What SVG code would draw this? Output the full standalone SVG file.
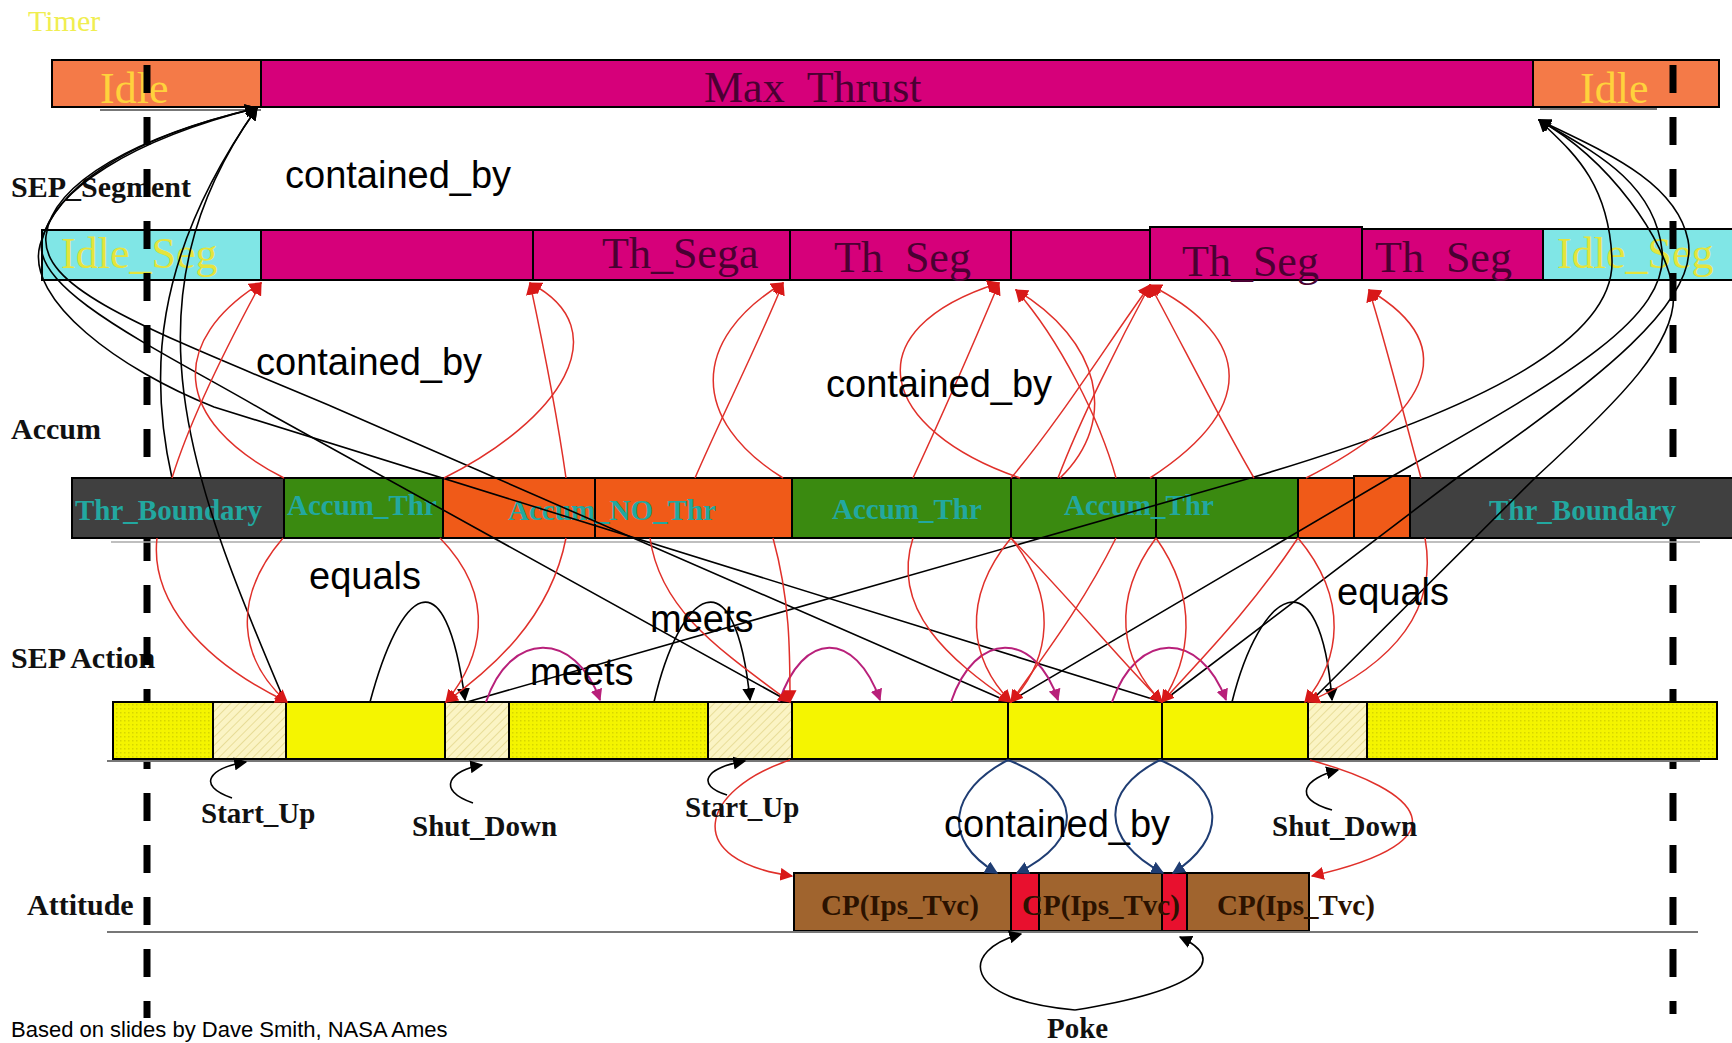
<svg xmlns="http://www.w3.org/2000/svg" width="1732" height="1043" viewBox="0 0 1732 1043">
<style>
.bar{stroke:#000;stroke-width:2}
.idle{fill:#f47a48}
.mag{fill:#d6007a}
.cyan{fill:#80e6e6}
.grey{fill:#404040}
.green{fill:#3a8a10}
.orange{fill:#f05a18}
.yel{fill:#f5f500}
.brown{fill:#a0642e}
.redb{fill:#e8102e}
.tlab{font-family:"Liberation Serif",serif;font-size:44px;fill:#ffd23c}
.slab{font-family:"Liberation Serif",serif;font-size:44px;fill:#4a0032}
.ylab{font-family:"Liberation Serif",serif;font-size:44px;fill:#e4e43c}
.alab{font-family:"Liberation Serif",serif;font-size:29px;font-weight:bold;fill:#22a8a0}
.rowlab{font-family:"Liberation Serif",serif;font-size:30px;font-weight:bold;fill:#111}
.blab{font-family:"Liberation Serif",serif;font-size:29px;font-weight:bold;fill:#111}
.cplab{font-family:"Liberation Serif",serif;font-size:29px;font-weight:bold;fill:#2b1200}
.rel{font-family:"Liberation Sans",Arial,sans-serif;font-size:38px;fill:#000}
.foot{font-family:"Liberation Sans",Arial,sans-serif;font-size:22px;fill:#000}
.cb{fill:none;stroke:#000;stroke-width:1.6}
.cr{fill:none;stroke:#e0302a;stroke-width:1.5}
.cm{fill:none;stroke:#b8207a;stroke-width:2}
.cbl{fill:none;stroke:#1f3d73;stroke-width:2}
.dash{stroke:#000;stroke-width:7;stroke-dasharray:28 24}
.thin{stroke:#777;stroke-width:2}
</style>
<defs>
<marker id="ab" viewBox="0 0 10 10" refX="9" refY="5" markerWidth="13" markerHeight="13" markerUnits="userSpaceOnUse" orient="auto"><path d="M0,0 L10,5 L0,10 z" fill="#000"/></marker>
<marker id="ar" viewBox="0 0 10 10" refX="9" refY="5" markerWidth="13" markerHeight="13" markerUnits="userSpaceOnUse" orient="auto"><path d="M0,0 L10,5 L0,10 z" fill="#d81818"/></marker>
<marker id="am" viewBox="0 0 10 10" refX="9" refY="5" markerWidth="12" markerHeight="12" markerUnits="userSpaceOnUse" orient="auto"><path d="M0,0 L10,5 L0,10 z" fill="#b8207a"/></marker>
<marker id="abl" viewBox="0 0 10 10" refX="9" refY="5" markerWidth="13" markerHeight="13" markerUnits="userSpaceOnUse" orient="auto"><path d="M0,0 L10,5 L0,10 z" fill="#1f3d73"/></marker>
<pattern id="hatch" width="6" height="6" patternUnits="userSpaceOnUse" patternTransform="rotate(45)"><rect width="6" height="6" fill="#fbf4c4"/><line x1="0" y1="0" x2="0" y2="6" stroke="#e2d68a" stroke-width="1.5"/></pattern>
<pattern id="dots" width="4" height="4" patternUnits="userSpaceOnUse"><rect width="4" height="4" fill="#f4f400"/><rect width="1.5" height="1.5" fill="#d6d600"/></pattern>
</defs>
<rect width="1732" height="1043" fill="#fff"/>

<g id="labels">
<text x="28" y="31" font-family="Liberation Serif,serif" font-size="30" fill="#f0ee50">Timer</text>
<text x="11" y="197" class="rowlab">SEP_Segment</text>
<text x="11" y="439" class="rowlab">Accum</text>
<text x="11" y="668" class="rowlab">SEP Action</text>
<text x="27" y="915" class="rowlab">Attitude</text>
<text x="11" y="1037" class="foot">Based on slides by Dave Smith, NASA Ames</text>
</g>

<g id="timer-row">
<g id="timer-idle-1"><rect x="52" y="60" width="209" height="47" class="bar idle"/><text x="100" y="103" class="tlab">Idle</text></g>
<g id="timer-max-thrust"><rect x="261" y="60" width="1272" height="47" class="bar mag"/><text x="704" y="102" class="slab">Max&#160;&#160;Thrust</text></g>
<g id="timer-idle-2"><rect x="1533" y="60" width="186" height="47" class="bar idle"/><text x="1580" y="103" class="tlab">Idle</text></g>
<line x1="100" y1="110" x2="261" y2="110" class="thin"/>
<line x1="1540" y1="109" x2="1657" y2="109" class="thin"/>
</g>

<g id="seg-row">
<g id="seg-idle-1"><rect x="42" y="230" width="219" height="50" class="bar cyan"/><text x="61" y="268" class="ylab">Idle_Seg</text></g>
<g id="seg-th-1"><rect x="261" y="230" width="272" height="50" class="bar mag"/></g>
<g id="seg-th-sega"><rect x="533" y="230" width="257" height="50" class="bar mag"/><text x="602" y="268" class="slab">Th_Sega</text></g>
<g id="seg-th-2"><rect x="790" y="230" width="221" height="50" class="bar mag"/><text x="834" y="272" class="slab">Th&#160;&#160;Seg</text></g>
<g id="seg-th-3"><rect x="1011" y="230" width="139" height="50" class="bar mag"/></g>
<g id="seg-th-4"><rect x="1150" y="227" width="212" height="53" class="bar mag"/><text x="1182" y="276" class="slab">Th_Seg</text></g>
<g id="seg-th-5"><rect x="1362" y="229" width="181" height="51" class="bar mag"/><text x="1375" y="272" class="slab">Th&#160;&#160;Seg</text></g>
<g id="seg-idle-2"><rect x="1543" y="229" width="195" height="51" class="bar cyan"/><text x="1557" y="268" class="ylab">Idle_Seg</text></g>
</g>

<g id="dashed-lines">
<line x1="147" y1="65" x2="147" y2="1018" class="dash"/>
<line x1="1673" y1="65" x2="1673" y2="1014" class="dash"/>
</g>

<g id="accum-row">
<g id="acc-boundary-1"><rect x="72" y="478" width="212" height="60" class="bar grey"/><text x="75" y="520" class="alab">Thr_Boundary</text></g>
<g id="acc-thr-1"><rect x="284" y="478" width="159" height="60" class="bar green"/><text x="287" y="515" class="alab">Accum_Thr</text></g>
<g id="acc-no-thr"><rect x="443" y="478" width="152" height="60" class="bar orange"/><rect x="595" y="478" width="197" height="60" class="bar orange"/><text x="508" y="520" class="alab">Accum_NO_Thr</text></g>
<g id="acc-thr-2"><rect x="792" y="478" width="219" height="60" class="bar green"/><text x="832" y="519" class="alab">Accum_Thr</text></g>
<g id="acc-thr-3"><rect x="1011" y="478" width="145" height="60" class="bar green"/><rect x="1156" y="478" width="142" height="60" class="bar green"/><text x="1064" y="515" class="alab">Accum_Thr</text></g>
<g id="acc-orange-2"><rect x="1298" y="478" width="56" height="60" class="bar orange"/><rect x="1354" y="476" width="56" height="62" class="bar orange"/></g>
<g id="acc-boundary-2"><rect x="1410" y="478" width="330" height="60" class="bar grey"/><text x="1489" y="520" class="alab">Thr_Boundary</text></g>
<line x1="111" y1="542" x2="1700" y2="542" stroke="#aaa" stroke-width="1.5"/>
</g>

<g id="action-row">
<rect id="act-1" x="113" y="702" width="100" height="57" class="bar" fill="url(#dots)"/>
<rect id="act-startup-1" x="213" y="702" width="73" height="57" class="bar" fill="url(#hatch)"/>
<rect id="act-2" x="286" y="702" width="159" height="57" class="bar yel"/>
<rect id="act-shutdown-1" x="445" y="702" width="64" height="57" class="bar" fill="url(#hatch)"/>
<rect id="act-3" x="509" y="702" width="199" height="57" class="bar" fill="url(#dots)"/>
<rect id="act-startup-2" x="708" y="702" width="84" height="57" class="bar" fill="url(#hatch)"/>
<rect id="act-4" x="792" y="702" width="216" height="57" class="bar yel"/>
<rect id="act-5" x="1008" y="702" width="154" height="57" class="bar yel"/>
<rect id="act-6" x="1162" y="702" width="146" height="57" class="bar yel"/>
<rect id="act-shutdown-2" x="1308" y="702" width="59" height="57" class="bar" fill="url(#hatch)"/>
<rect id="act-7" x="1367" y="702" width="350" height="57" class="bar" fill="url(#dots)"/>
<line x1="107" y1="761" x2="1700" y2="761" class="thin"/>
</g>

<g id="attitude-row">
<g id="att-cp-1"><rect x="794" y="873" width="217" height="58" class="bar brown"/><text x="821" y="915" class="cplab">CP(Ips_Tvc)</text></g>
<g id="att-poke-1"><rect x="1011" y="873" width="28" height="58" class="bar redb"/></g>
<g id="att-cp-2"><rect x="1039" y="873" width="123" height="58" class="bar brown"/></g>
<g id="att-poke-2"><rect x="1162" y="873" width="25" height="58" class="bar redb"/></g>
<g id="att-cp-3"><rect x="1187" y="873" width="122" height="58" class="bar brown"/></g>
<text x="1022" y="915" class="cplab">CP(Ips_Tvc)</text>
<text x="1217" y="915" class="cplab">CP(Ips_Tvc)</text>
<line x1="107" y1="932" x2="1698" y2="932" class="thin"/>
</g>

<g id="connectors">
<path class="cb" marker-end="url(#ab)" d="M 1009 702 L 333 407 C 150 330, 40 290, 46 236 S 140 135, 257 108"/>
<path class="cb" marker-end="url(#ab)" d="M 790 702 L 268 413 C 160 350, 30 290, 42 240 S 130 140, 257 108"/>
<path class="cb" marker-end="url(#ab)" d="M 1162 702 L 214 407 C 120 370, 25 300, 40 245 S 120 140, 257 108"/>
<path class="cb" marker-end="url(#ab)" d="M 285 702 C 190 480, 120 300, 257 108"/>
<path class="cb" marker-end="url(#ab)" d="M 172 478 C 150 380, 150 260, 257 108"/>
<path class="cb" marker-end="url(#ab)" d="M 467 702 L 1254 477 C 1480 410, 1615 340, 1612 260 S 1570 150, 1539 120"/>
<path class="cb" marker-end="url(#ab)" d="M 1009 702 L 1391 477 C 1560 380, 1670 320, 1662 250 S 1590 150, 1539 120"/>
<path class="cb" marker-end="url(#ab)" d="M 1162 702 L 1458 477 C 1600 380, 1700 300, 1688 240 S 1600 150, 1539 120"/>
<path class="cb" marker-end="url(#ab)" d="M 1310 702 L 1536 477 C 1620 400, 1680 340, 1673 290 S 1610 160, 1539 120"/>
<path class="cb" marker-end="url(#ab)" d="M 370 702 C 400 590, 445 550, 465 700"/>
<path class="cb" marker-end="url(#ab)" d="M 654 702 C 680 590, 735 550, 750 700"/>
<path class="cb" marker-end="url(#ab)" d="M 1232 702 C 1260 590, 1320 550, 1332 700"/>
<path class="cm" marker-end="url(#am)" d="M 486 702 C 510 630, 575 630, 600 700"/>
<path class="cm" marker-end="url(#am)" d="M 779 702 C 803 630, 855 630, 880 700"/>
<path class="cm" marker-end="url(#am)" d="M 951 702 C 975 630, 1035 630, 1058 700"/>
<path class="cm" marker-end="url(#am)" d="M 1112 702 C 1137 630, 1200 630, 1226 700"/>
<path class="cr" marker-end="url(#ar)" d="M 172 478 C 190 420, 230 340, 261 283"/>
<path class="cr" marker-end="url(#ar)" d="M 284 478 C 170 420, 170 340, 261 283"/>
<path class="cr" marker-end="url(#ar)" d="M 566 478 C 555 400, 540 330, 530 283"/>
<path class="cr" marker-end="url(#ar)" d="M 444 478 C 560 420, 620 330, 530 283"/>
<path class="cr" marker-end="url(#ar)" d="M 695 478 C 720 420, 760 340, 783 283"/>
<path class="cr" marker-end="url(#ar)" d="M 783 478 C 690 420, 690 340, 783 283"/>
<path class="cr" marker-end="url(#ar)" d="M 913 478 C 940 420, 975 340, 999 283"/>
<path class="cr" marker-end="url(#ar)" d="M 1020 478 C 880 430, 850 330, 999 283"/>
<path class="cr" marker-end="url(#ar)" d="M 1116 478 C 1100 420, 1060 340, 1016 290"/>
<path class="cr" marker-end="url(#ar)" d="M 1060 478 C 1120 420, 1100 340, 1016 290"/>
<path class="cr" marker-end="url(#ar)" d="M 1058 478 C 1080 420, 1120 340, 1150 285"/>
<path class="cr" marker-end="url(#ar)" d="M 1011 478 C 1060 420, 1110 340, 1150 285"/>
<path class="cr" marker-end="url(#ar)" d="M 1254 478 C 1220 420, 1180 340, 1150 285"/>
<path class="cr" marker-end="url(#ar)" d="M 1150 478 C 1270 400, 1240 330, 1150 285"/>
<path class="cr" marker-end="url(#ar)" d="M 1421 478 C 1405 420, 1385 340, 1369 290"/>
<path class="cr" marker-end="url(#ar)" d="M 1306 478 C 1420 420, 1470 350, 1369 290"/>
<path class="cr" marker-end="url(#ar)" d="M 157 538 C 150 600, 200 660, 287 702"/>
<path class="cr" marker-end="url(#ar)" d="M 283 538 C 230 600, 240 660, 287 702"/>
<path class="cr" marker-end="url(#ar)" d="M 440 538 C 500 600, 480 660, 446 702"/>
<path class="cr" marker-end="url(#ar)" d="M 566 538 C 550 620, 490 670, 446 702"/>
<path class="cr" marker-end="url(#ar)" d="M 773 538 C 790 600, 790 650, 790 702"/>
<path class="cr" marker-end="url(#ar)" d="M 650 538 C 660 610, 720 650, 790 702"/>
<path class="cr" marker-end="url(#ar)" d="M 913 538 C 890 610, 950 660, 1011 702"/>
<path class="cr" marker-end="url(#ar)" d="M 1011 538 C 960 600, 970 660, 1011 702"/>
<path class="cr" marker-end="url(#ar)" d="M 1011 538 C 1060 600, 1050 660, 1011 702"/>
<path class="cr" marker-end="url(#ar)" d="M 1116 538 C 1080 610, 1040 660, 1011 702"/>
<path class="cr" marker-end="url(#ar)" d="M 1011 538 C 1080 610, 1120 660, 1162 702"/>
<path class="cr" marker-end="url(#ar)" d="M 1156 538 C 1200 600, 1190 660, 1162 702"/>
<path class="cr" marker-end="url(#ar)" d="M 1156 538 C 1110 600, 1120 660, 1162 702"/>
<path class="cr" marker-end="url(#ar)" d="M 1298 538 C 1250 610, 1200 660, 1162 702"/>
<path class="cr" marker-end="url(#ar)" d="M 1298 538 C 1350 600, 1340 660, 1305 702"/>
<path class="cr" marker-end="url(#ar)" d="M 1425 538 C 1440 620, 1380 670, 1308 702"/>
<path class="cr" marker-end="url(#ar)" d="M 790 760 C 700 790, 680 860, 792 876"/>
<path class="cr" marker-end="url(#ar)" d="M 1310 760 C 1420 790, 1470 840, 1312 876"/>
<path class="cbl" marker-end="url(#abl)" d="M 1008 760 C 950 790, 940 840, 997 873"/>
<path class="cbl" marker-end="url(#abl)" d="M 1008 760 C 1085 790, 1085 840, 1017 873"/>
<path class="cbl" marker-end="url(#abl)" d="M 1160 760 C 1100 790, 1100 840, 1163 873"/>
<path class="cbl" marker-end="url(#abl)" d="M 1160 760 C 1230 790, 1225 840, 1173 873"/>
<path class="cb" stroke-width="2" marker-end="url(#ab)" d="M 1075 1010 C 960 1000, 960 950, 1021 934"/>
<path class="cb" stroke-width="2" marker-end="url(#ab)" d="M 1075 1010 C 1200 990, 1230 960, 1180 937"/>
<path class="cb" stroke-width="2" marker-end="url(#ab)" d="M 232 798 C 195 785, 210 768, 246 762"/>
<path class="cb" stroke-width="2" marker-end="url(#ab)" d="M 473 803 C 435 790, 450 770, 482 765"/>
<path class="cb" stroke-width="2" marker-end="url(#ab)" d="M 727 795 C 695 785, 705 768, 745 761"/>
<path class="cb" stroke-width="2" marker-end="url(#ab)" d="M 1332 810 C 1290 798, 1305 778, 1338 770"/>
</g>

<g id="relation-labels">
<text x="285" y="188" class="rel">contained_by</text>
<text x="256" y="375" class="rel">contained_by</text>
<text x="826" y="397" class="rel">contained_by</text>
<text x="944" y="837" class="rel">contained_by</text>
<text x="309" y="589" class="rel">equals</text>
<text x="1337" y="605" class="rel">equals</text>
<text x="650" y="632" class="rel">meets</text>
<text x="530" y="685" class="rel">meets</text>
<text x="201" y="823" class="blab">Start_Up</text>
<text x="412" y="836" class="blab">Shut_Down</text>
<text x="685" y="817" class="blab">Start_Up</text>
<text x="1272" y="836" class="blab">Shut_Down</text>
<text x="1047" y="1038" class="blab">Poke</text>
</g>
</svg>
